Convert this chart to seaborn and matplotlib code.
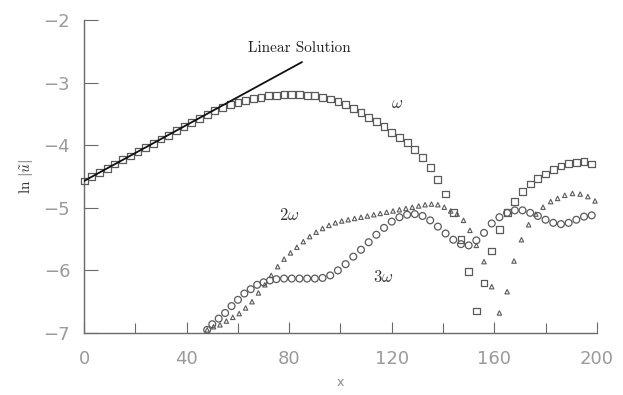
import numpy as np
import pandas as pd
import matplotlib
matplotlib.use("Agg")
import matplotlib.pyplot as plt
import seaborn as sns

# ---- data ----
w1_x = [0, 3, 6, 9, 12, 15, 18, 21, 24, 27, 30, 33, 36, 39, 42, 45, 48, 51, 54, 57,
        60, 63, 66, 69, 72, 75, 78, 81, 84, 87, 90, 93, 96, 99, 102, 105, 108, 111,
        114, 117, 120, 123, 126, 129, 132, 135, 138, 141, 144, 147, 150, 153, 156,
        159, 162, 165, 168, 171, 174, 177, 180, 183, 186, 189, 192, 195, 198]
w1_y = [-4.57, -4.50, -4.43, -4.37, -4.30, -4.23, -4.17, -4.10, -4.03, -3.97, -3.90,
        -3.84, -3.77, -3.70, -3.64, -3.57, -3.51, -3.45, -3.40, -3.35, -3.31, -3.28,
        -3.25, -3.23, -3.21, -3.20, -3.19, -3.19, -3.19, -3.20, -3.21, -3.23, -3.26,
        -3.30, -3.35, -3.41, -3.48, -3.55, -3.62, -3.70, -3.79, -3.87, -3.96, -4.07,
        -4.20, -4.35, -4.55, -4.78, -5.08, -5.50, -6.02, -6.65, -6.20, -5.69, -5.34,
        -5.08, -4.90, -4.74, -4.62, -4.53, -4.46, -4.39, -4.33, -4.29, -4.27, -4.26,
        -4.30]

w2_x = [48, 50.5, 53, 55.5, 58, 60.5, 63, 65.5, 68, 70.5, 73, 75.5, 78, 80.5, 83,
        85.5, 88, 90.5, 93, 95.5, 98, 100.5, 103, 105.5, 108, 110.5, 113, 115.5, 118,
        120.5, 123, 125.5, 128, 130.5, 133, 135.5, 138, 140.5, 143, 145.5, 148, 150.5,
        153, 156, 159, 162, 165, 167.7, 170.6, 173.4, 176.2, 179, 182, 184.7, 187.5,
        190.5, 193.5, 196.5, 199.3]
w2_y = [-6.95, -6.90, -6.87, -6.81, -6.75, -6.69, -6.60, -6.50, -6.36, -6.23, -6.08,
        -5.94, -5.82, -5.72, -5.63, -5.54, -5.46, -5.39, -5.33, -5.28, -5.24, -5.21,
        -5.19, -5.17, -5.15, -5.13, -5.11, -5.09, -5.07, -5.05, -5.03, -5.01, -4.99,
        -4.97, -4.95, -4.94, -4.95, -4.99, -5.05, -5.10, -5.20, -5.36, -5.60, -5.86,
        -6.26, -6.68, -6.34, -5.85, -5.51, -5.27, -5.10, -4.99, -4.90, -4.85, -4.80,
        -4.77, -4.78, -4.82, -4.89]

w3_x = [48, 50, 52.5, 55, 57.5, 60, 62.5, 65, 67.5, 70, 72.5, 75, 78, 81, 84, 87, 90,
        93, 96, 99, 102, 105, 108, 111, 114, 117, 120, 123, 126, 129, 132, 135, 138,
        141, 144, 147, 150, 153, 156, 159, 162, 165, 168, 171, 174, 177, 180, 183,
        186, 189, 192, 195, 198]
w3_y = [-6.95, -6.86, -6.77, -6.68, -6.57, -6.47, -6.37, -6.30, -6.23, -6.19, -6.16,
        -6.14, -6.13, -6.13, -6.13, -6.13, -6.13, -6.12, -6.08, -6.00, -5.90, -5.78,
        -5.67, -5.55, -5.43, -5.32, -5.22, -5.15, -5.11, -5.10, -5.13, -5.20, -5.30,
        -5.41, -5.51, -5.58, -5.60, -5.52, -5.40, -5.25, -5.15, -5.08, -5.04, -5.04,
        -5.08, -5.13, -5.19, -5.24, -5.26, -5.24, -5.19, -5.14, -5.12]

lin_x = [0, 85]
lin_y = [-4.57, -2.67]

x_ticks = [0, 40, 80, 120, 160, 200]
y_ticks = [-7, -6, -5, -4, -3, -2]

# ---- styling ----
sns.set_theme(style="ticks")
plt.rcParams["font.family"] = ["DejaVu Sans"]
plt.rcParams["mathtext.fontset"] = "cm"

fig = plt.figure(figsize=(6.23, 3.95), dpi=100)
ax = fig.add_axes([0.135, 0.157, 0.823, 0.792])

edge = "#5a5a5a"
sns.scatterplot(x=w1_x, y=w1_y, ax=ax, marker="s", s=24, facecolor="none",
                edgecolor=edge, linewidth=0.9, clip_on=False, zorder=3)
sns.scatterplot(x=w2_x, y=w2_y, ax=ax, marker="^", s=10, facecolor="none",
                edgecolor=edge, linewidth=0.8, clip_on=False, zorder=3)
sns.scatterplot(x=w3_x, y=w3_y, ax=ax, marker="o", s=24, facecolor="none",
                edgecolor=edge, linewidth=0.9, clip_on=False, zorder=3)
sns.lineplot(x=lin_x, y=lin_y, ax=ax, color="#111111", linewidth=1.3, zorder=4)

ax.set_xlim(0, 200)
ax.set_ylim(-7, -2)
ax.set_xticks(x_ticks)
ax.set_yticks(y_ticks)
ax.set_xticks([20, 60, 100, 140, 180], minor=True)
ax.set_xticklabels([str(t) for t in x_ticks])
ax.set_yticklabels(["\u2212" + str(abs(t)) for t in y_ticks])

spine_c = "#6a6a6a"
sns.despine(ax=ax)
for s in ("left", "bottom"):
    ax.spines[s].set_color(spine_c)
    ax.spines[s].set_linewidth(1.0)

ax.tick_params(axis="both", which="both", direction="in", colors=spine_c,
               labelcolor="#9a9a9a", labelsize=13, width=0.8)
ax.tick_params(axis="x", which="major", length=8, pad=12)
ax.tick_params(axis="x", which="minor", length=7)
ax.tick_params(axis="y", which="major", length=10, pad=10)

ax.set_xlabel("x", fontsize=9, color="#888888", labelpad=6)
ax.set_ylabel(r"$\ln\,|\tilde{u}|$", fontsize=11, color="#333333", labelpad=6)

ax.text(84, -2.45, "Linear Solution", fontfamily="cmr10", fontsize=11,
        ha="center", va="center", color="#222222")
ax.text(122, -3.33, r"$\omega$", fontsize=12, ha="center", va="center", color="#333333")
ax.text(80, -5.12, r"$2\omega$", fontsize=12, ha="center", va="center", color="#333333")
ax.text(116.5, -6.1, r"$3\omega$", fontsize=12, ha="center", va="center", color="#333333")

fig.savefig("out.png", dpi=100)
